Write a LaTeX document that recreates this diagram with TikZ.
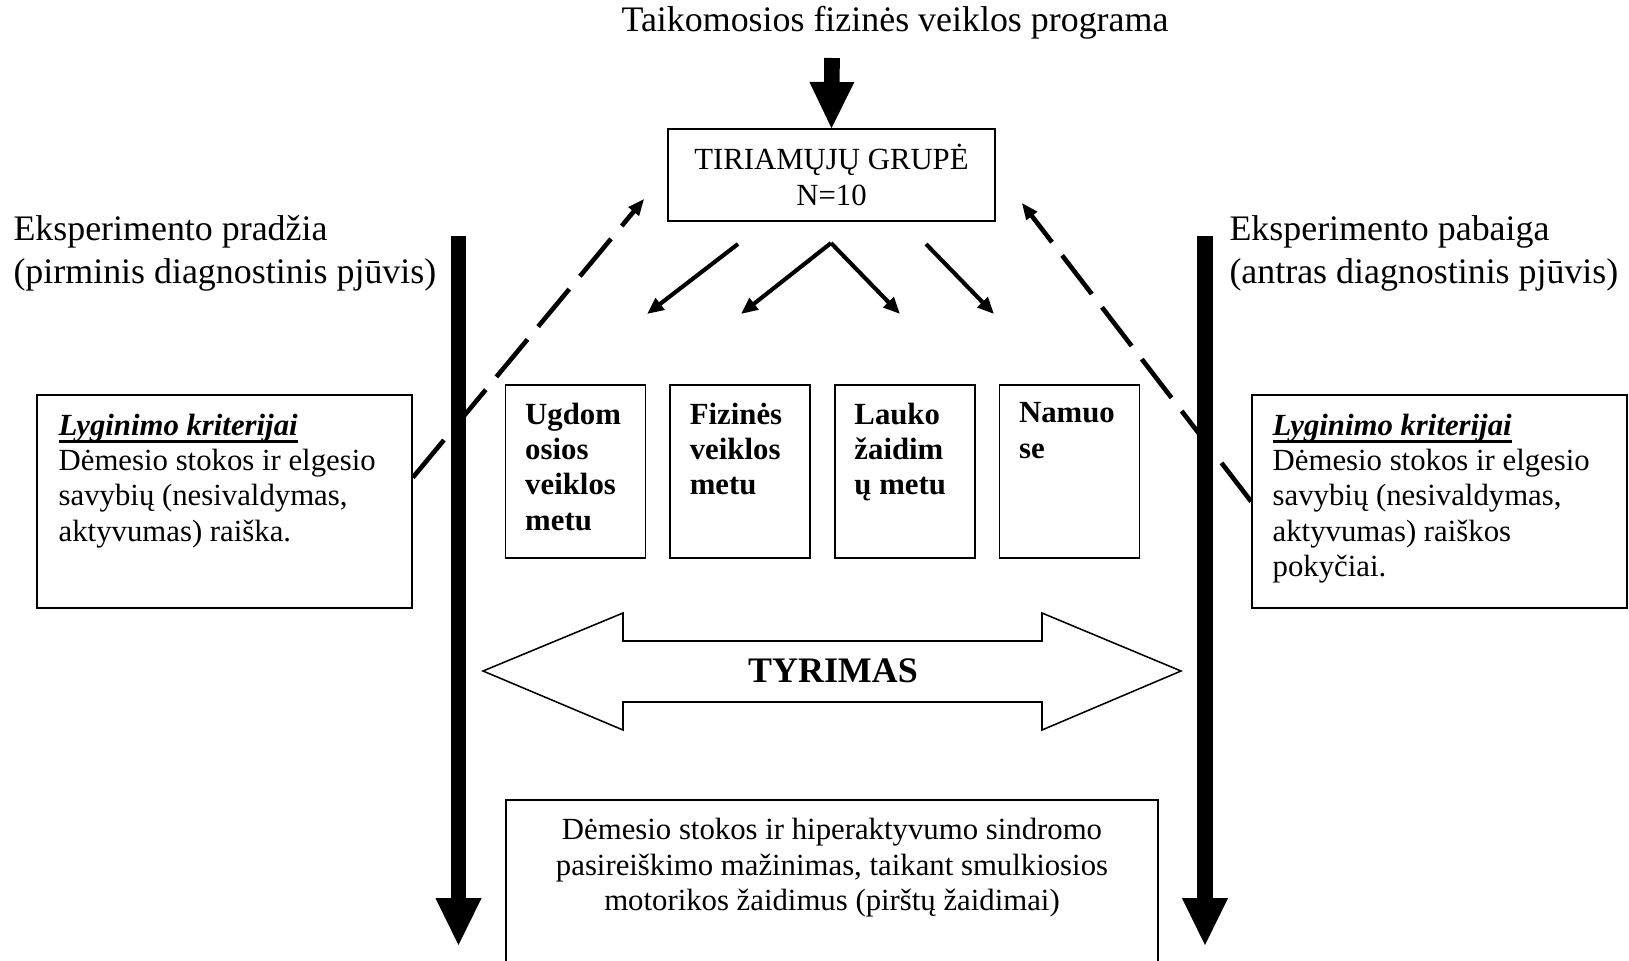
\documentclass[tikz,border=0pt]{standalone}
\usepackage{fontspec}
\setmainfont{Liberation Serif}
\usetikzlibrary{arrows.meta, calc, positioning}

% storas pabraukimas po antrašte
\newcommand{\pabrauktas}[1]{\setbox0=\hbox{#1}\rlap{\rule[-3pt]{\wd0}{1pt}}\box0}

\begin{document}
\begin{tikzpicture}[x=0.39pt, y=-0.39pt,
    dezute/.style={draw, line width=0.6pt, inner sep=0pt},
    raides/.style={inner sep=0pt, align=left, font=\fontsize{12}{13.8}\selectfont},
    pusjuode/.style={raides, font=\fontsize{12}{13.8}\selectfont\bfseries},
    didele/.style={inner sep=0pt, align=left, font=\fontsize{14}{16.8}\selectfont},
    veikla/.style={dezute, minimum width=54.6pt, minimum height=67.5pt},
    rodykle/.style={line width=1.6pt, -{Triangle[length=6.5pt,width=5.5pt]}},
    bruksnine/.style={line width=1.8pt, dash pattern=on 19pt off 6.5pt, -{Triangle[length=6.5pt,width=5pt]}},
    stora/.style={line width=6.2pt, -{Triangle[length=18.3pt,width=18pt,line width=0pt]}}]

    \useasboundingbox (0,0) rectangle (1629,961);

    % programa ir tiriamųjų grupė
    \node[didele] (programa) at (895,23) {Taikomosios fizinės veiklos programa};
    \node[dezute, align=center, font=\fontsize{12}{13.8}\selectfont,
          minimum width=127.5pt, minimum height=35.9pt] (grupe) at (831.5,175) {TIRIAMŲJŲ GRUPĖ\\N=10};
    \coordinate (progApac) at (832,58);
    \draw[line width=6.1pt, -{Triangle[length=18pt,width=17.5pt,line width=0pt]}] (progApac) -- (grupe.north);

    % eksperimento pradžia ir pabaiga
    \node[didele, anchor=west] (pradzia) at (13,253) {Eksperimento pradžia\\(pirminis diagnostinis pjūvis)};
    \node[didele, anchor=west] (pabaiga) at (1229,253) {Eksperimento pabaiga\\(antras diagnostinis pjūvis)};
    \coordinate (kairVirs) at (458.5,236);
    \coordinate (kairApac) at (458.5,945);
    \coordinate (desVirs) at (1205,236);
    \coordinate (desApac) at (1205,945);
    \draw[stora] (kairVirs) -- (kairApac);
    \draw[stora] (desVirs) -- (desApac);

    % lyginimo kriterijai
    \node[dezute, minimum width=146.3pt, minimum height=83.1pt] (kriterL) at (224.5,501.5) {};
    \node[raides, anchor=north west] (kriterLtekst) at ($(kriterL.north west)+(22,19)$)
        {\pabrauktas{\textbf{\textit{Lyginimo kriterijai}}}\\Dėmesio stokos ir elgesio\\savybių (nesivaldymas,\\aktyvumas) raiška.};
    \node[dezute, minimum width=146.3pt, minimum height=83.1pt] (kriterR) at (1439.5,501.5) {};
    \node[raides, anchor=north west] (kriterRtekst) at ($(kriterR.north west)+(21,19)$)
        {\pabrauktas{\textbf{\textit{Lyginimo kriterijai}}}\\Dėmesio stokos ir elgesio\\savybių (nesivaldymas,\\aktyvumas) raiškos\\pokyčiai.};

    % veiklos
    \node[veikla] (ugdom) at (575.5,471.5) {};
    \node[veikla, right=9pt of ugdom] (fizine) {};
    \node[veikla, right=9pt of fizine] (lauko) {};
    \node[veikla, right=9pt of lauko] (namuose) {};
    \node[pusjuode, anchor=north west] (ugdomT) at ($(ugdom.north west)+(20,18)$) {Ugdom\\osios\\veiklos\\metu};
    \node[pusjuode, anchor=north west] (fizineT) at ($(fizine.north west)+(20,18)$) {Fizinės\\veiklos\\metu};
    \node[pusjuode, anchor=north west] (laukoT) at ($(lauko.north west)+(20,18)$) {Lauko\\žaidim\\ų metu};
    \node[pusjuode, anchor=north west] (namuoseT) at ($(namuose.north west)+(20,18)$) {Namuo\\se};

    % rodyklės iš grupės
    \coordinate (s1) at (738,244);
    \coordinate (s2) at (831,243);
    \coordinate (s3) at (926,244);
    \coordinate (t1) at (647,314);
    \coordinate (t2) at (741,314);
    \coordinate (t3) at (900,314);
    \coordinate (t4) at (994,314);
    \draw[rodykle] (s1) -- (t1);
    \draw[rodykle] (s2) -- (t2);
    \draw[rodykle] (s2) -- (t3);
    \draw[rodykle] (s3) -- (t4);

    % grįžtamosios brūkšninės rodyklės
    \draw[bruksnine] ($(kriterL.east)+(0,-24)$) -- ($(grupe.south west)+(-23,-23)$);
    \draw[bruksnine] (kriterR.west) -- ($(grupe.south east)+(26,-19)$);

    % tyrimas
    \draw[line width=0.6pt] (483,671) -- (623,613) -- (623,641) -- (1042,641) -- (1042,613) -- (1181,671)
        -- (1042,730) -- (1042,702) -- (623,702) -- (623,730) -- cycle;
    \node[inner sep=0pt, font=\fontsize{14}{16.8}\selectfont\bfseries] (tyrimas) at (833,671) {TYRIMAS};

    % apatinis langelis
    \draw[line width=0.6pt] (506,961) |- (1158,800) -- (1158,961);
    \node[raides, align=center, anchor=north] (mazinimas) at (832,818)
        {Dėmesio stokos ir hiperaktyvumo sindromo\\pasireiškimo mažinimas, taikant smulkiosios\\motorikos žaidimus (pirštų žaidimai)};
\end{tikzpicture}
\end{document}
